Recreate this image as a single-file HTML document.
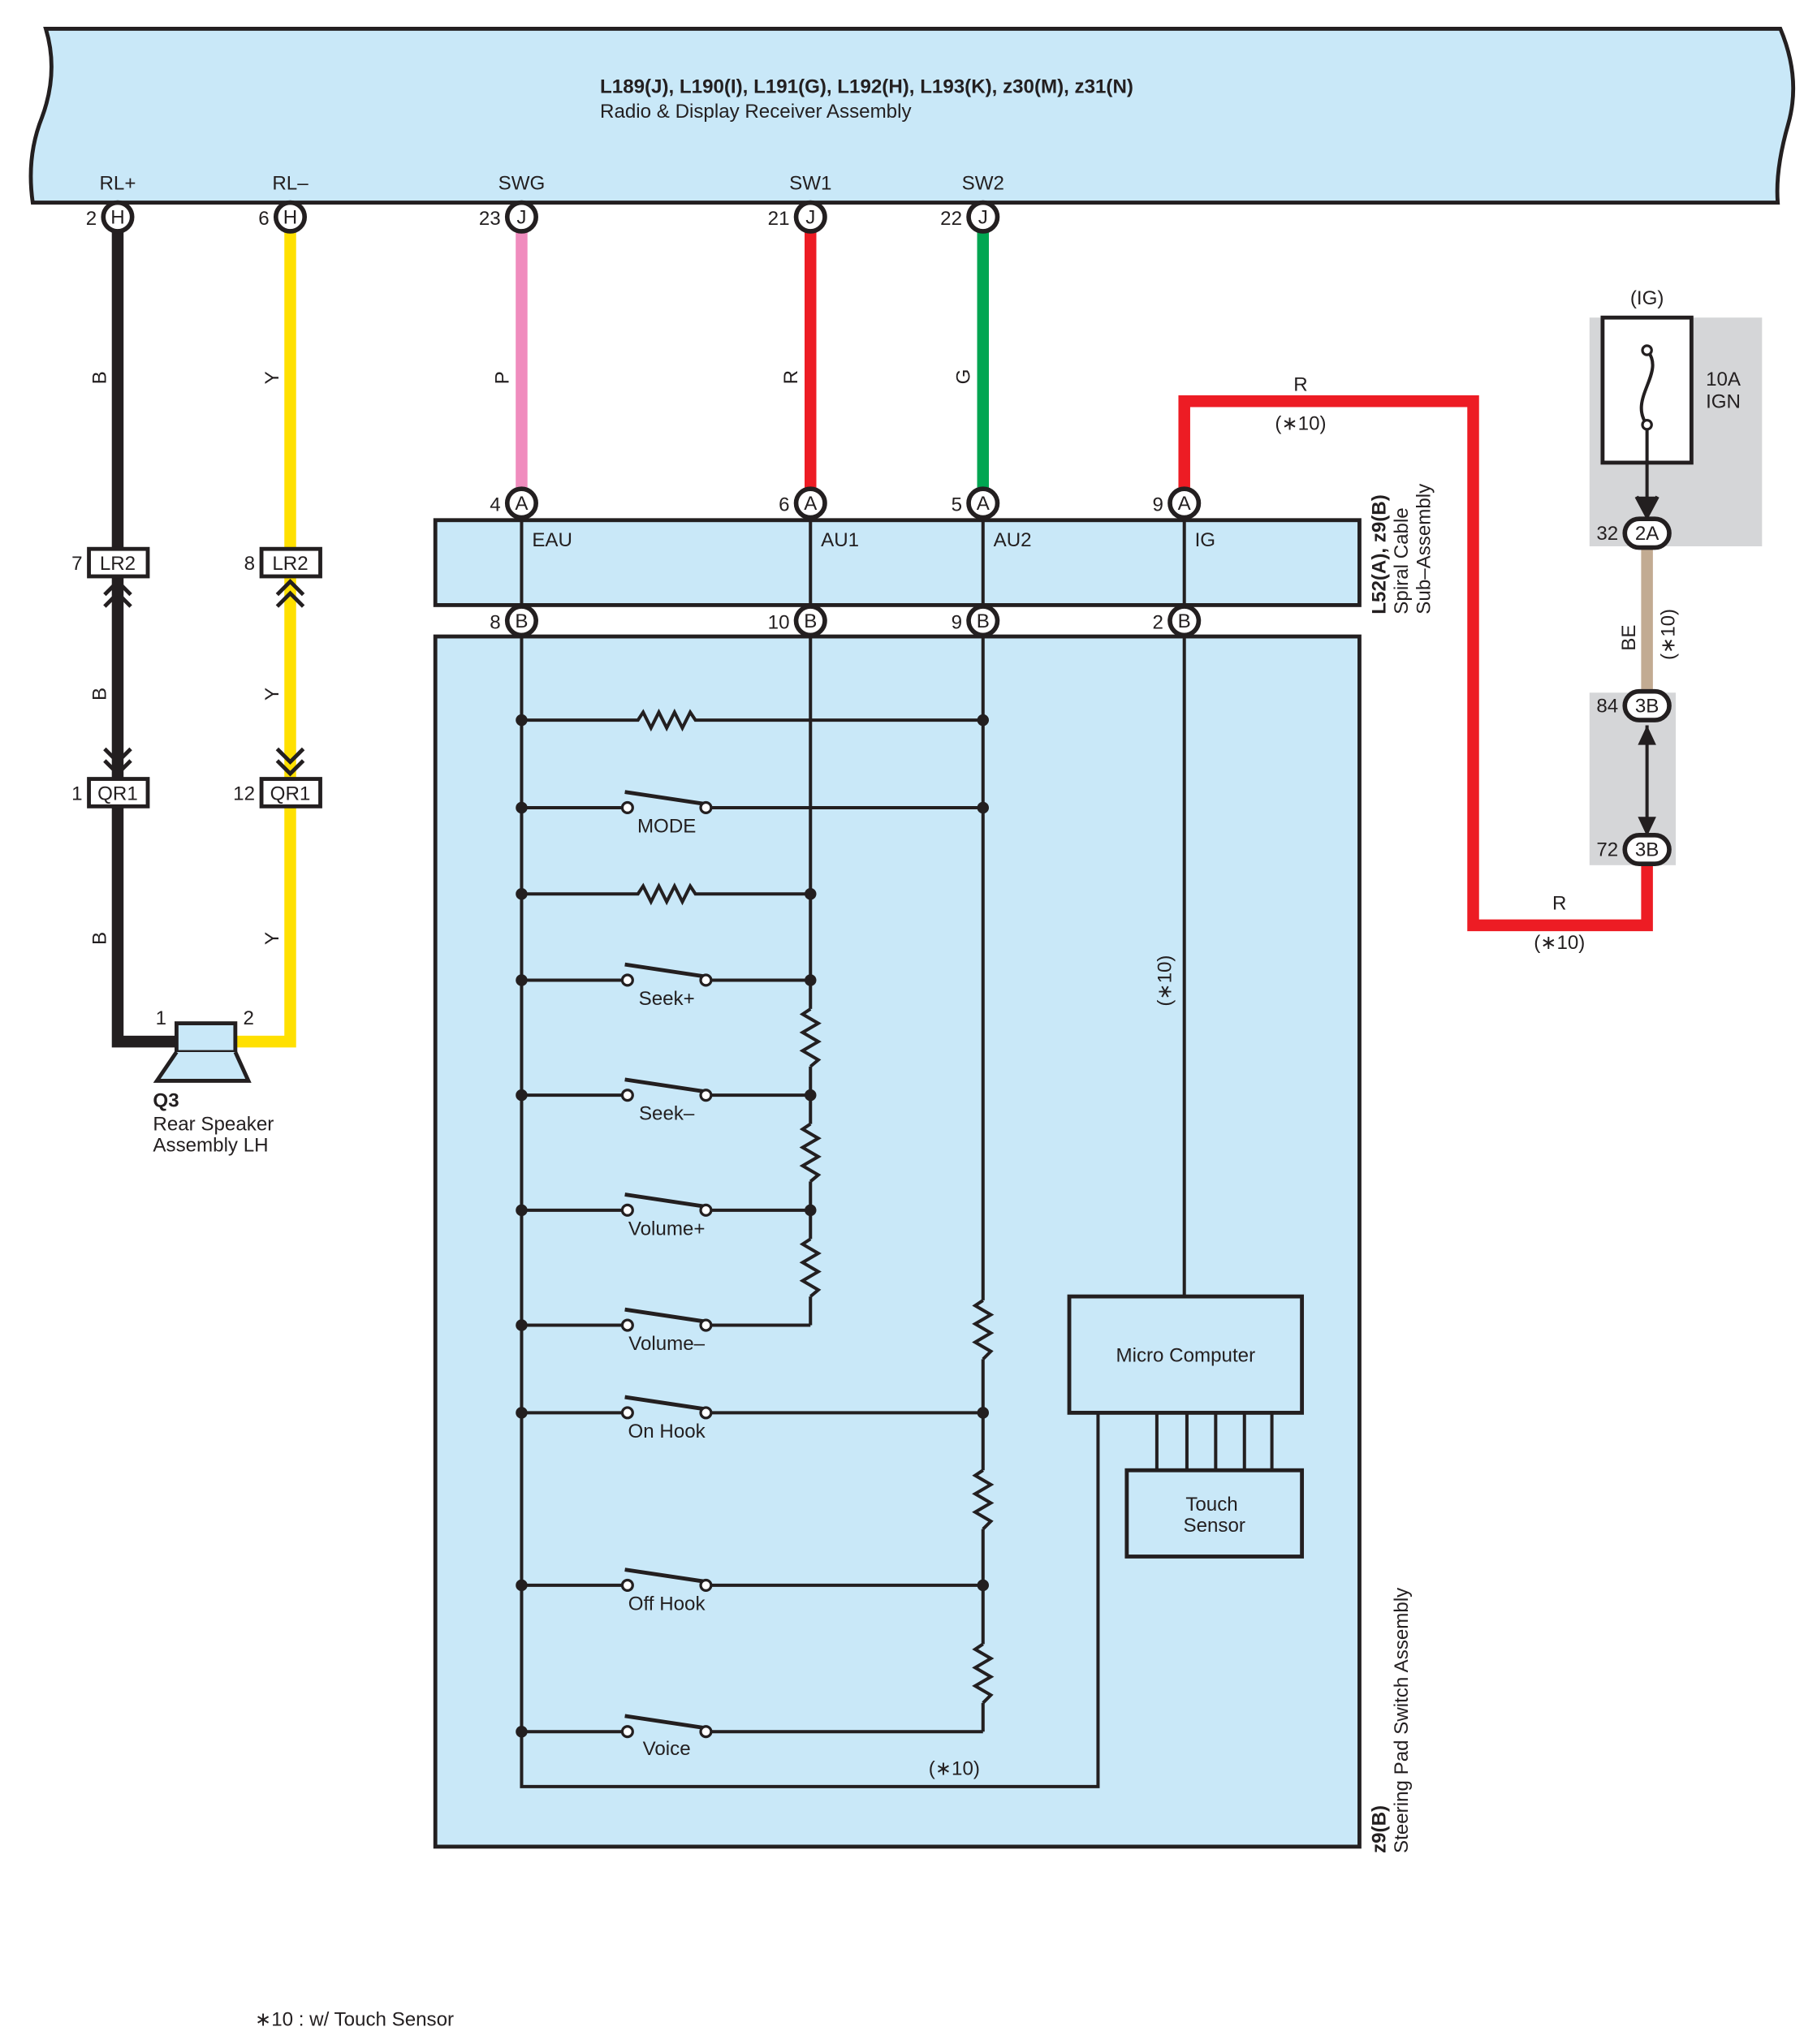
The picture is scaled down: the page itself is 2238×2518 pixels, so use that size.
<!DOCTYPE html>
<html><head><meta charset="utf-8"><style>
html,body{margin:0;padding:0;background:#fff;}
svg{display:block;}
text{font-family:"Liberation Sans",sans-serif;font-size:15px;fill:#231f20;}
.b{font-weight:bold;}
</style></head><body>
<svg width="2238" height="2518" viewBox="0 0 1390 1564" xmlns="http://www.w3.org/2000/svg">
<defs>
<g id="sw"><line x1="399" y1="0" x2="476" y2="0" stroke="#231f20" stroke-width="2.5"/><circle cx="480" cy="0" r="4" fill="#fff" stroke="#231f20" stroke-width="2"/><line x1="478" y1="-12" x2="538" y2="-3" stroke="#231f20" stroke-width="3"/><circle cx="540" cy="0" r="4" fill="#fff" stroke="#231f20" stroke-width="2"/></g>
</defs>
<!-- top banner -->
<path d="M35,22 L1362,22 Q1378,60 1368,95 Q1358,130 1360,155 L25,155 Q20,120 32,90 Q45,55 35,22 Z" fill="#c9e8f8" stroke="#231f20" stroke-width="3"/>
<text x="459" y="71" class="b">L189(J), L190(I), L191(G), L192(H), L193(K), z30(M), z31(N)</text>
<text x="459" y="90">Radio &amp; Display Receiver Assembly</text>
<g text-anchor="middle">
<text x="90" y="145">RL+</text><text x="222" y="145">RL–</text><text x="399" y="145">SWG</text><text x="620" y="145">SW1</text><text x="752" y="145">SW2</text>
</g>
<!-- gray areas -->
<rect x="1216" y="243" width="132" height="175" fill="#d5d6d8"/>
<rect x="1216" y="530" width="66" height="132" fill="#d5d6d8"/>
<!-- wires -->
<g fill="none" stroke-width="9">
<polyline points="90,177 90,797 135,797" stroke="#231f20"/>
<polyline points="222,177 222,797 180,797" stroke="#ffe000"/>
<line x1="399" y1="177" x2="399" y2="374" stroke="#f08cbe"/>
<line x1="620" y1="177" x2="620" y2="374" stroke="#ed1c24"/>
<line x1="752" y1="177" x2="752" y2="374" stroke="#00a651"/>
<polyline points="906,374 906,307 1127,307 1127,708 1260,708 1260,662" stroke="#ed1c24"/>
<line x1="1260" y1="418" x2="1260" y2="530" stroke="#c2ab92"/>
</g>
<!-- fuse -->
<rect x="1226" y="243" width="68" height="111" fill="#fff" stroke="#231f20" stroke-width="3"/>
<path d="M1260,268 C1275,285 1245,305 1260,325" fill="none" stroke="#231f20" stroke-width="2.5"/>
<circle cx="1260" cy="268" r="3.5" fill="#fff" stroke="#231f20" stroke-width="2"/><circle cx="1260" cy="325" r="3.5" fill="#fff" stroke="#231f20" stroke-width="2"/>
<line x1="1260" y1="328" x2="1260" y2="390" stroke="#231f20" stroke-width="2.5"/>
<path d="M1252,380 L1260,395 L1268,380" fill="#231f20" stroke="#231f20" stroke-width="3"/>
<text x="1260" y="233" text-anchor="middle">(IG)</text>
<text x="1305" y="295">10A</text><text x="1305" y="312">IGN</text>
<!-- 3B arrows -->
<line x1="1260" y1="555" x2="1260" y2="640" stroke="#231f20" stroke-width="2.5"/>
<path d="M1253,570 L1260,555 L1267,570 Z M1253,625 L1260,640 L1267,625 Z" fill="#231f20"/>
<!-- connectors pills -->
<g stroke="#231f20" stroke-width="3.5" fill="#fff">
<rect x="1243" y="397" width="34" height="22" rx="11"/>
<rect x="1243" y="529" width="34" height="22" rx="11"/>
<rect x="1243" y="639" width="34" height="22" rx="11"/>
</g>
<g text-anchor="middle"><text x="1260" y="413">2A</text><text x="1260" y="545">3B</text><text x="1260" y="655">3B</text></g>
<g text-anchor="end"><text x="1238" y="413">32</text><text x="1238" y="545">84</text><text x="1238" y="655">72</text></g>
<text transform="translate(1251,498) rotate(-90)">BE</text>
<text transform="translate(1281,505) rotate(-90)">(∗10)</text>
<text x="995" y="299" text-anchor="middle">R</text><text x="995" y="329" text-anchor="middle">(∗10)</text>
<text x="1193" y="696" text-anchor="middle">R</text><text x="1193" y="726" text-anchor="middle">(∗10)</text>
<!-- wire labels -->
<g>
<text transform="translate(81,294) rotate(-90)">B</text><text transform="translate(213,294) rotate(-90)">Y</text>
<text transform="translate(389,294) rotate(-90)">P</text><text transform="translate(610,294) rotate(-90)">R</text><text transform="translate(742,294) rotate(-90)">G</text>
<text transform="translate(81,536) rotate(-90)">B</text><text transform="translate(213,536) rotate(-90)">Y</text>
<text transform="translate(81,723) rotate(-90)">B</text><text transform="translate(213,723) rotate(-90)">Y</text>
</g>
<!-- LR2 / QR1 -->
<g stroke="#231f20" stroke-width="3" fill="#fff">
<rect x="68" y="420" width="45" height="21"/><rect x="200" y="420" width="45" height="21"/>
<rect x="68" y="596" width="45" height="21"/><rect x="200" y="596" width="45" height="21"/>
</g>
<g fill="none" stroke="#231f20" stroke-width="3">
<path d="M80,455 L90,445 L100,455 M80,464 L90,454 L100,464"/><path d="M212,455 L222,445 L232,455 M212,464 L222,454 L232,464"/>
<path d="M80,573 L90,583 L100,573 M80,582 L90,592 L100,582"/><path d="M212,573 L222,583 L232,573 M212,582 L222,592 L232,582"/>
</g>
<g text-anchor="middle"><text x="90" y="436">LR2</text><text x="222" y="436">LR2</text><text x="90" y="612">QR1</text><text x="222" y="612">QR1</text></g>
<g text-anchor="end"><text x="63" y="436">7</text><text x="195" y="436">8</text><text x="63" y="612">1</text><text x="195" y="612">12</text></g>
<!-- speaker -->
<rect x="135" y="783" width="45" height="22" fill="#c9e8f8" stroke="#231f20" stroke-width="3"/>
<path d="M135,805 L120,827 L190,827 L180,805" fill="#c9e8f8" stroke="#231f20" stroke-width="3"/>
<text x="119" y="784">1</text><text x="186" y="784">2</text>
<text x="117" y="847" class="b">Q3</text><text x="117" y="865">Rear Speaker</text><text x="117" y="881">Assembly LH</text>
<!-- spiral cable box -->
<rect x="333" y="398" width="707" height="65" fill="#c9e8f8" stroke="#231f20" stroke-width="3"/>
<g stroke="#231f20" stroke-width="2.5"><line x1="399" y1="396" x2="399" y2="465"/><line x1="620" y1="396" x2="620" y2="465"/><line x1="752" y1="396" x2="752" y2="465"/><line x1="906" y1="396" x2="906" y2="465"/></g>
<text x="407" y="418">EAU</text><text x="628" y="418">AU1</text><text x="760" y="418">AU2</text><text x="914" y="418">IG</text>
<text transform="translate(1060,470) rotate(-90)" class="b">L52(A), z9(B)</text>
<text transform="translate(1077,470) rotate(-90)">Spiral Cable</text>
<text transform="translate(1094,470) rotate(-90)">Sub–Assembly</text>
<!-- steering pad box -->
<rect x="333" y="487" width="707" height="926" fill="#c9e8f8" stroke="#231f20" stroke-width="3"/>
<text transform="translate(1060,1418) rotate(-90)" class="b">z9(B)</text>
<text transform="translate(1077,1418) rotate(-90)">Steering Pad Switch Assembly</text>
<g stroke="#231f20" stroke-width="2.5" fill="none">
<polyline points="399,487 399,1367 840,1367 840,1081"/>
<line x1="620" y1="487" x2="620" y2="1014"/>
<line x1="752" y1="487" x2="752" y2="1325"/>
<line x1="906" y1="487" x2="906" y2="992"/>
<polyline points="399,551 488,551 492,545 498,557 504,545 510,557 516,545 522,557 528,545 532,551 752,551"/>
<line x1="540" y1="618" x2="752" y2="618"/>
<polyline points="399,684 488,684 492,678 498,690 504,678 510,690 516,678 522,690 528,678 532,684 620,684"/>
<line x1="540" y1="750" x2="620" y2="750"/><line x1="540" y1="838" x2="620" y2="838"/><line x1="540" y1="926" x2="620" y2="926"/><line x1="540" y1="1014" x2="620" y2="1014"/>
<line x1="540" y1="1081" x2="752" y2="1081"/><line x1="540" y1="1213" x2="752" y2="1213"/><line x1="540" y1="1325" x2="752" y2="1325"/>
</g>
<!-- vertical resistors (white bg cover + zigzag) -->
<g stroke-width="2.5" fill="none">
<g stroke="#c9e8f8" stroke-width="4"><line x1="620" y1="772" x2="620" y2="816"/><line x1="620" y1="860" x2="620" y2="904"/><line x1="620" y1="948" x2="620" y2="992"/><line x1="752" y1="995" x2="752" y2="1040"/><line x1="752" y1="1125" x2="752" y2="1170"/><line x1="752" y1="1258" x2="752" y2="1303"/></g>
<g stroke="#231f20">
<polyline points="620,772 614,776 626,783 614,790 626,797 614,804 626,811 620,816"/>
<polyline points="620,860 614,864 626,871 614,878 626,885 614,892 626,899 620,904"/>
<polyline points="620,948 614,952 626,959 614,966 626,973 614,980 626,987 620,992"/>
<polyline points="752,995 746,999 758,1006 746,1013 758,1020 746,1027 758,1034 752,1040"/>
<polyline points="752,1125 746,1129 758,1136 746,1143 758,1150 746,1157 758,1164 752,1170"/>
<polyline points="752,1258 746,1262 758,1269 746,1276 758,1283 746,1290 758,1297 752,1303"/>
</g></g>
<use href="#sw" y="618"/><use href="#sw" y="750"/><use href="#sw" y="838"/><use href="#sw" y="926"/><use href="#sw" y="1014"/><use href="#sw" y="1081"/><use href="#sw" y="1213"/><use href="#sw" y="1325"/>
<g fill="#231f20">
<circle cx="399" cy="551" r="4.5"/><circle cx="752" cy="551" r="4.5"/><circle cx="399" cy="618" r="4.5"/><circle cx="752" cy="618" r="4.5"/>
<circle cx="399" cy="684" r="4.5"/><circle cx="620" cy="684" r="4.5"/><circle cx="399" cy="750" r="4.5"/><circle cx="620" cy="750" r="4.5"/>
<circle cx="399" cy="838" r="4.5"/><circle cx="620" cy="838" r="4.5"/><circle cx="399" cy="926" r="4.5"/><circle cx="620" cy="926" r="4.5"/>
<circle cx="399" cy="1014" r="4.5"/><circle cx="399" cy="1081" r="4.5"/><circle cx="752" cy="1081" r="4.5"/>
<circle cx="399" cy="1213" r="4.5"/><circle cx="752" cy="1213" r="4.5"/><circle cx="399" cy="1325" r="4.5"/>
</g>
<g text-anchor="middle">
<text x="510" y="637">MODE</text><text x="510" y="769">Seek+</text><text x="510" y="857">Seek–</text><text x="510" y="945">Volume+</text><text x="510" y="1033">Volume–</text><text x="510" y="1100">On Hook</text><text x="510" y="1232">Off Hook</text><text x="510" y="1343">Voice</text>
</g>
<text x="730" y="1358" text-anchor="middle">(∗10)</text>
<text transform="translate(896,770) rotate(-90)">(∗10)</text>
<!-- micro computer -->
<rect x="818" y="992" width="178" height="89" fill="#c9e8f8" stroke="#231f20" stroke-width="3"/>
<text x="907" y="1042" text-anchor="middle">Micro Computer</text>
<g stroke="#231f20" stroke-width="2.5"><line x1="885" y1="1081" x2="885" y2="1125"/><line x1="908" y1="1081" x2="908" y2="1125"/><line x1="930" y1="1081" x2="930" y2="1125"/><line x1="952" y1="1081" x2="952" y2="1125"/><line x1="973" y1="1081" x2="973" y2="1125"/></g>
<rect x="862" y="1125" width="134" height="66" fill="#c9e8f8" stroke="#231f20" stroke-width="3"/>
<text x="927" y="1156" text-anchor="middle">Touch</text><text x="929" y="1172" text-anchor="middle">Sensor</text>
<!-- circle connectors -->
<g stroke="#231f20" stroke-width="3.5" fill="#fff">
<circle cx="90" cy="166" r="11"/><circle cx="222" cy="166" r="11"/><circle cx="399" cy="166" r="11"/><circle cx="620" cy="166" r="11"/><circle cx="752" cy="166" r="11"/>
<circle cx="399" cy="385" r="11"/><circle cx="620" cy="385" r="11"/><circle cx="752" cy="385" r="11"/><circle cx="906" cy="385" r="11"/>
<circle cx="399" cy="475" r="11"/><circle cx="620" cy="475" r="11"/><circle cx="752" cy="475" r="11"/><circle cx="906" cy="475" r="11"/>
</g>
<g text-anchor="middle" style="font-size:14px">
<text x="90" y="171">H</text><text x="222" y="171">H</text><text x="399" y="171">J</text><text x="620" y="171">J</text><text x="752" y="171">J</text>
<text x="399" y="390">A</text><text x="620" y="390">A</text><text x="752" y="390">A</text><text x="906" y="390">A</text>
<text x="399" y="480">B</text><text x="620" y="480">B</text><text x="752" y="480">B</text><text x="906" y="480">B</text>
</g>
<g text-anchor="end">
<text x="74" y="172">2</text><text x="206" y="172">6</text><text x="383" y="172">23</text><text x="604" y="172">21</text><text x="736" y="172">22</text>
<text x="383" y="391">4</text><text x="604" y="391">6</text><text x="736" y="391">5</text><text x="890" y="391">9</text>
<text x="383" y="481">8</text><text x="604" y="481">10</text><text x="736" y="481">9</text><text x="890" y="481">2</text>
</g>
<text x="195" y="1550">∗10 : w/ Touch Sensor</text>
</svg>
</body></html>
